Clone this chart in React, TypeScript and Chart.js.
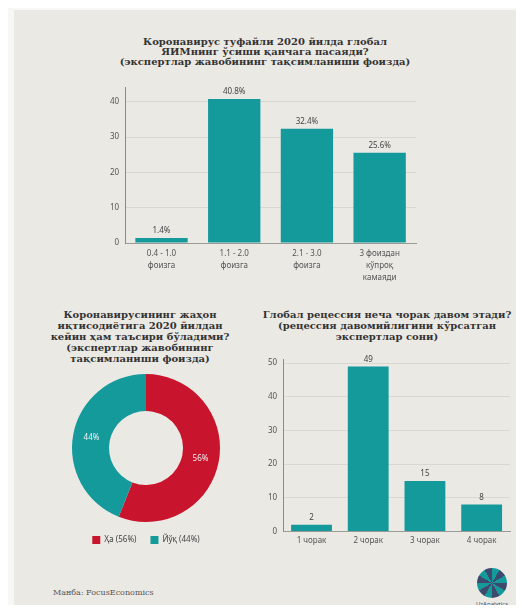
import { useEffect, useRef } from 'react'
import { Chart, registerables } from 'chart.js'

Chart.register(...registerables)

// top chart: expected fall of global GDP growth in 2020, % of experts
const gdpCategories = [
  ['0.4 - 1.0', 'фоизга'],
  ['1.1 - 2.0', 'фоизга'],
  ['2.1 - 3.0', 'фоизга'],
  ['3 фоиздан', 'кўпроқ', 'камаяди'],
]
const gdpShares = [1.4, 40.8, 32.4, 25.6]

// donut: will the impact last after 2020
const impactLabels = ['Ҳа (56%)', 'Йўқ (44%)']
const impactShares = [56, 44]

// right chart: number of experts by recession length
const quarterLabels = ['1 чорак', '2 чорак', '3 чорак', '4 чорак']
const quarterExperts = [2, 49, 15, 8]

const TEAL = '#159a9c'
const RED = '#c8142c'
const CARD = '#ebe9e4'
const TICK_FONT = { family: "'Noto Sans', sans-serif", size: 8 }

/** Draws each value above its bar, or in the middle of its arc for doughnuts. */
function makeValueLabels(format: (v: number) => string, color: string) {
  return {
    id: 'valueLabels',
    afterDatasetsDraw(chart: Chart) {
      const { ctx } = chart
      const isArc = (chart.config as any).type === 'doughnut'
      ctx.save()
      ctx.font = "8px 'Noto Sans', sans-serif"
      ctx.fillStyle = color
      ctx.textAlign = 'center'
      ctx.textBaseline = isArc ? 'middle' : 'bottom'
      chart.data.datasets.forEach((ds, di) => {
        chart.getDatasetMeta(di).data.forEach((el: any, i) => {
          const v = Number(ds.data[i])
          const p = isArc ? el.tooltipPosition() : { x: el.x, y: el.y - 3 }
          ctx.fillText(format(v), p.x, p.y)
        })
      })
      ctx.restore()
    },
  }
}

function useChart(build: (ctx: CanvasRenderingContext2D) => Chart) {
  const canvasRef = useRef<HTMLCanvasElement>(null)
  useEffect(() => {
    const ctx = canvasRef.current?.getContext('2d')
    if (!ctx) return
    const chart = build(ctx)
    return () => chart.destroy()
  }, [])
  return canvasRef
}

function barOptions(max: number, xLineHeight: number) {
  return {
    responsive: true,
    maintainAspectRatio: false,
    animation: false as const,
    layout: { padding: { left: 4, right: 2, top: 4, bottom: 0 } },
    plugins: { legend: { display: false }, tooltip: { enabled: false } },
    scales: {
      x: {
        grid: { display: false, drawTicks: false },
        border: { color: '#9a9a96' },
        ticks: {
          color: '#555',
          font: { ...TICK_FONT, lineHeight: xLineHeight },
          padding: 5,
          maxRotation: 0,
        },
      },
      y: {
        min: 0,
        max,
        border: { color: '#8a8a86' },
        grid: { color: '#d9d7d2', drawTicks: false },
        ticks: { stepSize: 10, includeBounds: false, color: '#555', font: TICK_FONT, padding: 6 },
      },
    },
  }
}

function GdpChart() {
  const ref = useChart(
    (ctx) =>
      new Chart(ctx, {
        type: 'bar',
        data: {
          labels: gdpCategories,
          datasets: [{ data: gdpShares, backgroundColor: TEAL }],
        },
        options: barOptions(44, 1.5) as any,
        plugins: [makeValueLabels((v) => v.toFixed(1) + '%', '#444')],
      })
  )
  return (
    <div style={{ position: 'absolute', left: 100, top: 77, width: 318, height: 212 }}>
      <canvas ref={ref} />
    </div>
  )
}

function ImpactChart() {
  const ref = useChart(
    (ctx) =>
      new Chart(ctx, {
        type: 'doughnut',
        data: {
          labels: impactLabels,
          datasets: [{ data: impactShares, backgroundColor: [RED, TEAL], borderWidth: 0 }],
        },
        options: {
          responsive: true,
          maintainAspectRatio: false,
          animation: false,
          cutout: '50%',
          plugins: {
            tooltip: { enabled: false },
            legend: {
              position: 'bottom',
              labels: { boxWidth: 8, boxHeight: 8, color: '#444', font: TICK_FONT, padding: 14 },
            },
          },
        },
        plugins: [makeValueLabels((v) => v + '%', '#f2f2f2')],
      })
  )
  return (
    <div style={{ position: 'absolute', left: 61, top: 374, width: 170, height: 180 }}>
      <canvas ref={ref} />
    </div>
  )
}

function RecessionChart() {
  const ref = useChart(
    (ctx) =>
      new Chart(ctx, {
        type: 'bar',
        data: {
          labels: quarterLabels,
          datasets: [{ data: quarterExperts, backgroundColor: TEAL }],
        },
        options: barOptions(51, 1.2) as any,
        plugins: [makeValueLabels((v) => String(v), '#444')],
      })
  )
  return (
    <div style={{ position: 'absolute', left: 258, top: 349, width: 254, height: 202 }}>
      <canvas ref={ref} />
    </div>
  )
}

const titleStyle = {
  position: 'absolute' as const,
  textAlign: 'center' as const,
  fontFamily: "'DejaVu Serif', serif",
  fontWeight: 'bold' as const,
  fontSize: 10,
  lineHeight: '11px',
  color: '#333',
  whiteSpace: 'nowrap' as const,
}

export default function App() {
  return (
    <div style={{ position: 'relative', width: 524, height: 613, margin: -8, background: '#f7f7f5', overflow: 'hidden' }}>
      <div style={{ position: 'absolute', left: 14, top: 10, width: 505, height: 599, background: CARD }} />
      <div style={{ ...titleStyle, left: 115, width: 300, top: 37, lineHeight: '10px' }}>
        Коронавирус туфайли 2020 йилда глобал
        <br />
        ЯИМнинг ўсиши қанчага пасаяди?
        <br />
        (экспертлар жавобининг тақсимланиши фоизда)
      </div>
      <GdpChart />
      <div style={{ ...titleStyle, left: 40, width: 200, top: 309 }}>
        Коронавирусининг жаҳон
        <br />
        иқтисодиётига 2020 йилдан
        <br />
        кейин ҳам таъсири бўладими?
        <br />
        (экспертлар жавобининг
        <br />
        тақсимланиши фоизда)
      </div>
      <ImpactChart />
      <div style={{ ...titleStyle, left: 262, width: 250, top: 309 }}>
        Глобал рецессия неча чорак давом этади?
        <br />
        (рецессия давомийлигини кўрсатган
        <br />
        экспертлар сони)
      </div>
      <RecessionChart />
      <div
        style={{
          position: 'absolute',
          left: 53,
          top: 588,
          fontFamily: "'DejaVu Serif', serif",
          fontSize: 8,
          color: '#555',
        }}
      >
        Манба: FocusEconomics
      </div>
      <div
        style={{
          position: 'absolute',
          left: 477,
          top: 568,
          width: 30,
          height: 30,
          borderRadius: '50%',
          background: `conic-gradient(${TEAL} 0 30deg, #3d4a6e 30deg 60deg, ${TEAL} 60deg 90deg, #3d4a6e 90deg 120deg, ${TEAL} 120deg 150deg, #3d4a6e 150deg 180deg, ${TEAL} 180deg 210deg, #3d4a6e 210deg 240deg, ${TEAL} 240deg 270deg, #3d4a6e 270deg 300deg, ${TEAL} 300deg 330deg, #3d4a6e 330deg 360deg)`,
        }}
      />
      <div
        style={{
          position: 'absolute',
          left: 462,
          width: 60,
          top: 600,
          textAlign: 'center',
          fontFamily: "'Noto Sans', sans-serif",
          fontSize: 6,
          color: '#3d4a6e',
        }}
      >
        UzAnalytics
      </div>
    </div>
  )
}
